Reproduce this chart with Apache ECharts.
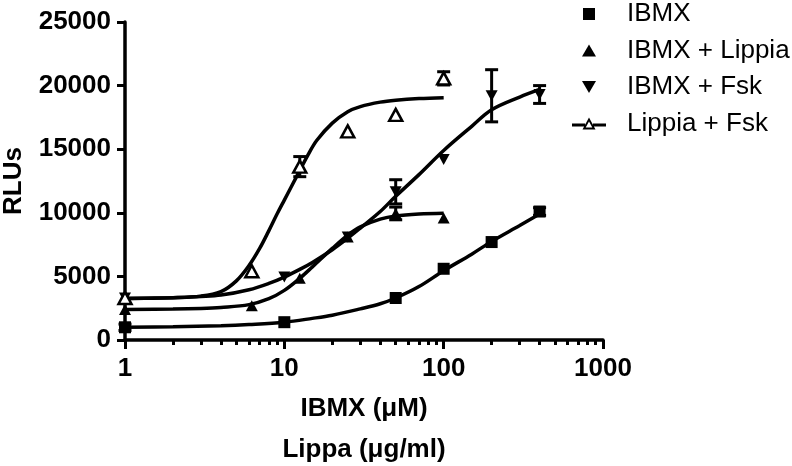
<!DOCTYPE html>
<html>
<head>
<meta charset="utf-8">
<script src="https://cdn.jsdelivr.net/npm/echarts@6/dist/echarts.min.js"></script>
<style>html,body{margin:0;padding:0;background:#fff}#c{width:792px;height:466px}</style>
</head>
<body>
<div id="c"></div>
<script>
// ---- measured points ----
const ibmxX = [1, 10, 50, 100, 200, 400];
const ibmxY = [1000, 1400, 3300, 5600, 7700, 10100];
const ibmxErr = [250, 0, 0, 0, 0, 300];

const ibmxLipX = [1, 6.25, 12.5, 25, 50, 100];
const ibmxLipY = [2400, 2700, 4850, 8100, 9950, 9600];
const ibmxLipErr = [0, 0, 0, 0, 500, 0];

const ibmxFskX = [1, 10, 25, 50, 100, 200, 400];
const ibmxFskY = [3300, 4950, 8100, 11650, 14200, 19200, 19300];
const ibmxFskErr = [0, 0, 0, 950, 0, 2050, 700];

const lipFskX = [1, 6.25, 12.5, 25, 50, 100];
const lipFskY = [3300, 5400, 13630, 16400, 17700, 20570];
const lipFskErr = [0, 0, 790, 0, 0, 520];

// ---- fitted curves ----
const ibmxCurveX = [1, 2, 4, 6, 10, 15, 20, 30, 40, 50, 70, 100, 150, 200, 300, 400];
const ibmxCurveY = [1000, 1050, 1130, 1220, 1400, 1700, 1950, 2450, 2850, 3300, 4200, 5450, 6750, 7750, 9000, 9900];

const ibmxLipCurveX = [1, 2, 3, 4, 6, 8, 10, 12.5, 15, 20, 25, 30, 40, 50, 70, 100];
const ibmxLipCurveY = [2400, 2430, 2480, 2560, 2780, 3250, 3900, 4850, 5750, 7200, 8250, 8900, 9500, 9750, 9900, 9960];

const ibmxFskCurveX = [1, 2, 3, 4, 6, 8, 10, 12.5, 15, 20, 25, 30, 40, 50, 70, 100, 150, 200, 300, 400];
const ibmxFskCurveY = [3250, 3330, 3420, 3530, 3950, 4450, 4950, 5550, 6100, 7100, 8000, 8800, 10100, 11300, 13000, 14900, 16800, 18100, 19100, 19700];

const lipFskCurveX = [1, 2, 3, 4, 5, 6, 7, 8, 9, 10, 12, 14, 16, 20, 25, 30, 40, 50, 70, 100];
const lipFskCurveY = [3280, 3330, 3450, 3800, 4650, 5850, 7200, 8600, 9900, 11000, 12900, 14500, 15700, 17050, 17950, 18350, 18700, 18850, 18980, 19050];

// ---- axes ----
const xMajorTicks = [1, 10, 100, 1000];
const xMinorTicks = [2,3,4,5,6,7,8,9,20,30,40,50,60,70,80,90,200,300,400,500,600,700,800,900];
const yTicks = [0, 5000, 10000, 15000, 20000, 25000];

const seriesNames = ['IBMX', 'IBMX + Lippia', 'IBMX + Fsk', 'Lippia + Fsk'];

const zip = (a, b) => a.map((v, i) => [v, b[i]]);
const zip3 = (a, b, c) => a.map((v, i) => [v, b[i], c[i]]);

const FONT = '"Liberation Sans", Arial, sans-serif';
const downTri = 'path://M0 0 L14 0 L7 12 Z';
const upTri = 'path://M7 0 L14 12 L0 12 Z';
const square = 'path://M0 0 L12 0 L12 12 L0 12 Z';
const lineOpenTri = 'path://M0 6 L13 6 L13 9 L0 9 Z M21 6 L34 6 L34 9 L21 9 Z M10.5 12 L17 0 L23.5 12 Z M13.7 10 L20.3 10 L17 3.9 Z';

function lineSeries(name, xs, ys) {
  return {
    type: 'line', name: name, data: zip(xs, ys), smooth: 0.35,
    showSymbol: false, symbol: 'none', silent: true, z: 2,
    lineStyle: { color: '#000', width: 3.5, opacity: 1 }
  };
}
function errSeries(name, xs, ys, es) {
  return {
    type: 'custom', name: name, data: zip3(xs, ys, es), z: 3, silent: true,
    renderItem: function (params, api) {
      const e = api.value(2);
      if (!e) return null;
      const x = api.value(0), y = api.value(1);
      const top = api.coord([x, y + e]);
      const bot = api.coord([x, y - e]);
      const w = 6.5;
      const st = { stroke: '#000', lineWidth: 3 };
      return { type: 'group', children: [
        { type: 'line', shape: { x1: top[0], y1: top[1], x2: bot[0], y2: bot[1] }, style: st },
        { type: 'line', shape: { x1: top[0] - w, y1: top[1], x2: top[0] + w, y2: top[1] }, style: st },
        { type: 'line', shape: { x1: bot[0] - w, y1: bot[1], x2: bot[0] + w, y2: bot[1] }, style: st }
      ]};
    }
  };
}

const chart = echarts.init(document.getElementById('c'), null, { renderer: 'canvas' });
chart.setOption({
  animation: false,
  backgroundColor: '#fff',
  grid: { left: 125, right: 189, top: 22, bottom: 126, containLabel: false, outerBoundsMode: 'none' },
  legend: {
    orient: 'vertical', left: 572, top: 1, padding: 0,
    itemWidth: 34, itemHeight: 12, itemGap: 10.5,
    selectedMode: false,
    textStyle: { fontFamily: FONT, fontSize: 26, color: '#000', lineHeight: 26, padding: [0, 0, 0, 16] },
    data: [
      { name: seriesNames[0], icon: square, itemStyle: { color: '#000', borderWidth: 0, opacity: 1 } },
      { name: seriesNames[1], icon: upTri, itemStyle: { color: '#000', borderWidth: 0, opacity: 1 } },
      { name: seriesNames[2], icon: downTri, itemStyle: { color: '#000', borderWidth: 0, opacity: 1 } },
      { name: seriesNames[3], icon: lineOpenTri, itemStyle: { color: '#000', borderWidth: 0, opacity: 1 } }
    ]
  },
  xAxis: [{
    type: 'log', logBase: 10, min: 1, max: 1000,
    name: 'IBMX (μM)\nLippa (μg/ml)', nameLocation: 'middle', nameGap: 48,
    nameTextStyle: { fontFamily: FONT, fontSize: 26, fontWeight: 'bold', color: '#000', lineHeight: 41 },
    axisLine: { show: true, lineStyle: { color: '#000', width: 3.5 } },
    axisTick: { show: true, inside: false, length: 9, lineStyle: { color: '#000', width: 3 }, customValues: xMajorTicks },
    axisLabel: { margin: 16, fontFamily: FONT, fontSize: 26, fontWeight: 'bold', color: '#000',
      customValues: xMajorTicks, formatter: v => String(v) },
    splitLine: { show: false }
  }, {
    type: 'log', logBase: 10, min: 1, max: 1000, position: 'bottom', offset: 0,
    axisLine: { show: false },
    axisTick: { show: true, length: 5, lineStyle: { color: '#000', width: 3 }, customValues: xMinorTicks },
    axisLabel: { show: false },
    splitLine: { show: false }
  }],
  yAxis: {
    type: 'value', min: 0, max: 25000, interval: 5000,
    name: 'RLUs', nameLocation: 'middle', nameGap: 98,
    nameTextStyle: { fontFamily: FONT, fontSize: 26, fontWeight: 'bold', color: '#000' },
    axisLine: { show: true, lineStyle: { color: '#000', width: 3.5 } },
    axisTick: { show: true, length: 8, lineStyle: { color: '#000', width: 3 } },
    axisLabel: { margin: 14, fontFamily: FONT, fontSize: 26, fontWeight: 'bold', color: '#000',
      formatter: v => String(v) },
    splitLine: { show: false }
  },
  series: [
    lineSeries('IBMX fit', ibmxCurveX, ibmxCurveY),
    lineSeries('IBMX + Lippia fit', ibmxLipCurveX, ibmxLipCurveY),
    lineSeries('IBMX + Fsk fit', ibmxFskCurveX, ibmxFskCurveY),
    lineSeries('Lippia + Fsk fit', lipFskCurveX, lipFskCurveY),
    errSeries('IBMX err', ibmxX, ibmxY, ibmxErr),
    errSeries('IBMX + Lippia err', ibmxLipX, ibmxLipY, ibmxLipErr),
    errSeries('IBMX + Fsk err', ibmxFskX, ibmxFskY, ibmxFskErr),
    errSeries('Lippia + Fsk err', lipFskX, lipFskY, lipFskErr),
    { type: 'scatter', name: seriesNames[0], data: zip(ibmxX, ibmxY), symbol: 'rect', symbolSize: 12, z: 4,
      itemStyle: { color: '#000', opacity: 1 } },
    { type: 'scatter', name: seriesNames[1], data: zip(ibmxLipX, ibmxLipY), symbol: 'triangle', symbolSize: [12, 11], z: 4,
      itemStyle: { color: '#000', opacity: 1 } },
    { type: 'scatter', name: seriesNames[2], data: zip(ibmxFskX, ibmxFskY), symbol: downTri, symbolSize: [12, 11], z: 4,
      itemStyle: { color: '#000', opacity: 1 } },
    { type: 'scatter', name: seriesNames[3], data: zip(lipFskX, lipFskY), symbol: 'triangle', symbolSize: [13, 12], z: 4,
      itemStyle: { color: '#fff', borderColor: '#000', borderWidth: 2.5, opacity: 1 } }
  ]
});
</script>
</body>
</html>
